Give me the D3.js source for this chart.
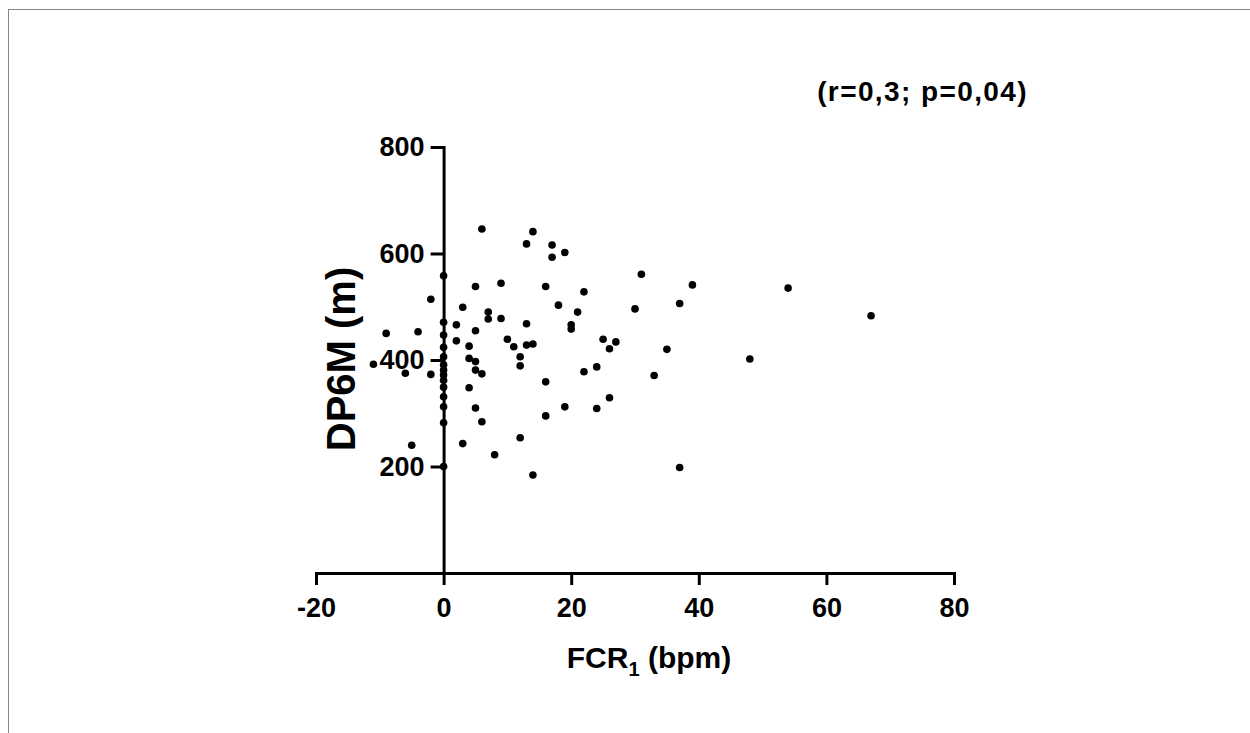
<!DOCTYPE html>
<html>
<head>
<meta charset="utf-8">
<script src="https://cdn.jsdelivr.net/npm/d3@7/dist/d3.min.js"></script>
<style>
  html, body { margin: 0; padding: 0; background: #fff; }
  svg { display: block; }
  text { font-family: "Liberation Sans", Arial, sans-serif; font-weight: bold; fill: #000; }
</style>
</head>
<body>
<svg id="chart" width="1250" height="733"></svg>
<script>
// FCR1 (bpm) values
const fcr = [
  0, 0, 0, 0, 0, 0, 0, 0, 0, 0, 0, 0, 0, 0,
  -11, -6, -2, -2, -9, -4, -5,
  6, 14, 13, 17, 17, 19,
  5, 9, 16, 18, 3, 7, 7, 9, 13, 2, 5, 2, 4, 10, 11, 13, 14,
  4, 5, 5, 6, 12, 12, 4, 5, 6, 16, 16, 12, 3, 8, 14,
  31, 39, 22, 21, 30, 37, 20, 20, 25, 27, 26, 35,
  22, 24, 33, 19, 26, 24, 37,
  48, 54, 67
];
// DP6M (m) values
const dp6m = [
  558, 471, 447, 424, 406, 391, 381, 372, 362, 349, 331, 312, 282, 200,
  392, 375, 373, 514, 450, 453, 240,
  646, 641, 618, 616, 593, 602,
  538, 544, 538, 503, 499, 490, 477, 478, 468, 466, 455, 436, 426, 439, 425, 428, 430,
  403, 397, 381, 374, 406, 389, 348, 310, 284, 359, 295, 254, 243, 222, 184,
  561, 541, 528, 490, 496, 506, 466, 458, 439, 434, 421, 420,
  378, 387, 371, 312, 329, 309, 198,
  402, 535, 483
];
const xTicks = [-20, 0, 20, 40, 60, 80];
const yTicks = [200, 400, 600, 800];
const xTitle = "FCR";
const xTitleSub = "1";
const xTitleRest = " (bpm)";
const yTitle = "DP6M (m)";
const note = "(r=0,3; p=0,04)";

const svg = d3.select("#chart");

// frame
svg.append("line").attr("x1", 8.5).attr("x2", 8.5).attr("y1", 9).attr("y2", 733)
  .attr("stroke", "#888").attr("stroke-width", 1);
svg.append("line").attr("x1", 8).attr("x2", 1250).attr("y1", 9.5).attr("y2", 9.5)
  .attr("stroke", "#888").attr("stroke-width", 1);

const x = d3.scaleLinear().domain([-20, 80]).range([316, 954]);
const y = d3.scaleLinear().domain([0, 800]).range([573, 147]);

const fmt = d => String(d);
const xAxis = d3.axisBottom(x).tickValues(xTicks).tickFormat(fmt).tickSize(12).tickSizeOuter(0).tickPadding(13);
const yAxis = d3.axisLeft(y).tickValues(yTicks).tickFormat(fmt).tickSize(13).tickSizeOuter(0).tickPadding(6);

const gx = svg.append("g").attr("transform", `translate(0,${y(0)})`).call(xAxis);
const gy = svg.append("g").attr("transform", `translate(${x(0)},0)`).call(yAxis);

[gx, gy].forEach(g => {
  g.select(".domain").attr("stroke", "#000").attr("stroke-width", 3).attr("stroke-linecap", "square");
  g.selectAll(".tick line").attr("stroke", "#000").attr("stroke-width", 3);
  g.selectAll(".tick text").attr("font-size", 27).attr("font-family", "Liberation Sans, Arial, sans-serif")
    .attr("font-weight", "bold").attr("fill", "#000");
});

// points
svg.append("g").selectAll("circle").data(fcr.map((v, i) => [v, dp6m[i]])).join("circle")
  .attr("cx", d => x(d[0])).attr("cy", d => y(d[1])).attr("r", 3.8).attr("fill", "#000");

// titles
const xt = svg.append("text").attr("x", x(30) + 14).attr("y", 668).attr("text-anchor", "middle")
  .attr("font-size", 30);
xt.append("tspan").text(xTitle);
xt.append("tspan").attr("font-size", 20).attr("dy", 8).text(xTitleSub);
xt.append("tspan").attr("dy", -8).text(xTitleRest);

svg.append("text").attr("transform", `translate(355, 359) rotate(-90)`)
  .attr("text-anchor", "middle").attr("font-size", 40).text(yTitle);

svg.append("text").attr("x", 1028).attr("y", 101).attr("text-anchor", "end")
  .attr("font-size", 28).attr("letter-spacing", 1.4).text(note);
</script>
</body>
</html>
